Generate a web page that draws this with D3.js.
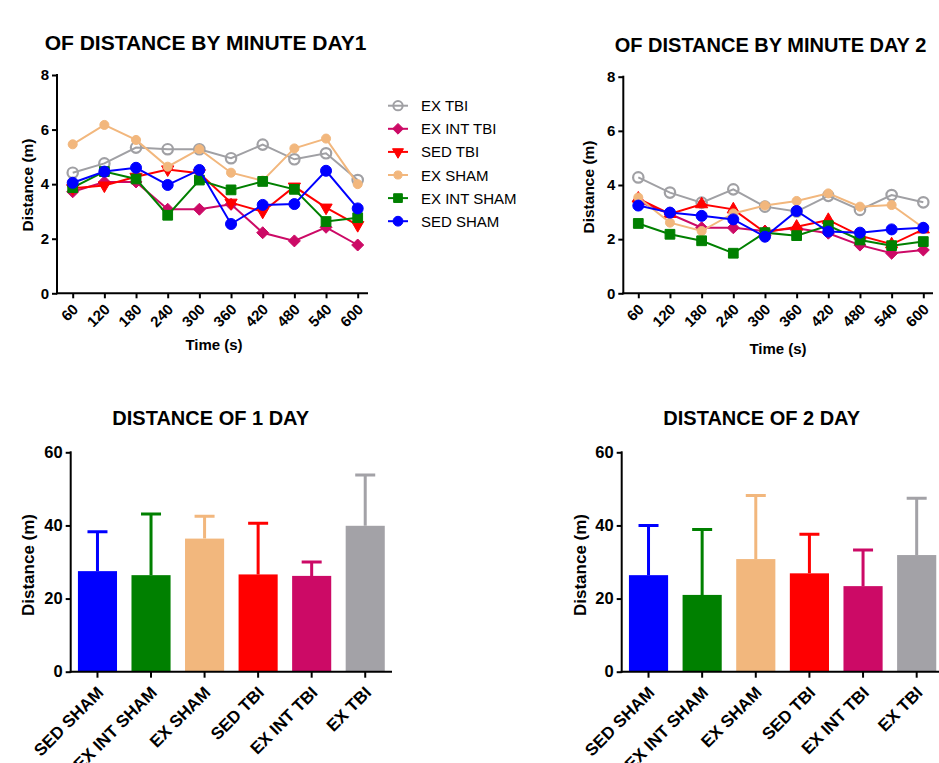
<!DOCTYPE html>
<html>
<head>
<meta charset="utf-8">
<script src="https://cdn.jsdelivr.net/npm/d3@7"></script>
<style>
body{margin:0;background:#fff}
svg text{font-family:'Liberation Sans',Arial,sans-serif;fill:#000}
</style>
</head>
<body>
<svg id="chart" width="939" height="763"></svg>
<script>
// minute-by-minute data
const times = [60, 120, 180, 240, 300, 360, 420, 480, 540, 600]
const lineGroups = ['EX TBI', 'EX INT TBI', 'SED TBI', 'EX SHAM', 'EX INT SHAM', 'SED SHAM']
const lineColors = ['#a0a0a4', '#cc0a66', '#ff0000', '#f2b77d', '#008000', '#0000ff']

const day1ExTbi     = [4.42, 4.76, 5.34, 5.28, 5.28, 4.95, 5.45, 4.91, 5.13, 4.15]
const day1ExIntTbi  = [3.72, 4.08, 4.08, 3.08, 3.08, 3.26, 2.22, 1.92, 2.42, 1.77]
const day1SedTbi    = [3.85, 3.95, 4.27, 4.54, 4.40, 3.32, 2.99, 3.91, 3.14, 2.50]
const day1ExSham    = [5.46, 6.17, 5.62, 4.64, 5.28, 4.42, 4.13, 5.31, 5.67, 4.00]
const day1ExIntSham = [3.87, 4.46, 4.19, 2.86, 4.15, 3.79, 4.10, 3.81, 2.63, 2.77]
const day1SedSham   = [4.05, 4.46, 4.60, 3.97, 4.52, 2.54, 3.24, 3.27, 4.49, 3.11]

const day2ExTbi     = [4.28, 3.72, 3.35, 3.84, 3.20, 3.02, 3.60, 3.08, 3.63, 3.36]
const day2ExIntTbi  = [3.40, 2.93, 2.42, 2.42, 2.30, 2.40, 2.22, 1.78, 1.48, 1.60]
const day2SedTbi    = [3.50, 2.93, 3.29, 3.10, 2.25, 2.46, 2.71, 2.13, 1.81, 2.36]
const day2ExSham    = [3.54, 2.61, 2.30, 2.95, 3.24, 3.41, 3.69, 3.20, 3.26, 2.42]
const day2ExIntSham = [2.58, 2.18, 1.94, 1.48, 2.24, 2.13, 2.50, 1.97, 1.76, 1.91]
const day2SedSham   = [3.24, 2.98, 2.86, 2.73, 2.09, 3.04, 2.28, 2.24, 2.36, 2.42]

const lineTicks = [0, 2, 4, 6, 8]

// whole-day totals
const barGroups = ['SED SHAM', 'EX INT SHAM', 'EX SHAM', 'SED TBI', 'EX INT TBI', 'EX TBI']
const barColors = ['#0000ff', '#008000', '#f2b77d', '#ff0000', '#cc0a66', '#a3a2a7']
const day1Mean = [27.5, 26.4, 36.4, 26.6, 26.2, 39.9]
const day1Err  = [10.8, 16.7, 6.1, 14.0, 3.8, 13.9]
const day2Mean = [26.4, 21.0, 30.8, 26.9, 23.4, 31.9]
const day2Err  = [13.6, 17.9, 17.4, 10.7, 9.9, 15.5]
const barTicks = [0, 20, 40, 60]

var svg = d3.select('#chart')

const diamond = {draw(ctx, size){ // square turned 45deg
  const r = Math.sqrt(size) / Math.SQRT2
  ctx.moveTo(0, -r); ctx.lineTo(r, 0); ctx.lineTo(0, r); ctx.lineTo(-r, 0); ctx.closePath()
}}

// marker per series: [symbol type, size, filled, rotate]
var markers = (day) => [
  [d3.symbolCircle, 85, false, 0],
  [diamond, 72, true, 0],
  [d3.symbolTriangle, 65, true, day === 1 ? 180 : 0],
  [d3.symbolCircle, 64, true, 0],
  [d3.symbolSquare, 95, true, 0],
  [d3.symbolCircle, 95, true, 0]
]

var styleAxis = (g, fs) => {
  g.selectAll('line').attr('stroke', '#000').attr('stroke-width', 2)
  g.selectAll('text').style('font-size', fs + 'px').style('font-weight', 'bold')
}

var lineChart = (opt) => {
  const x = d3.scaleLinear([60, 600], [opt.x0, opt.x1])
  const y = d3.scaleLinear([0, 8], [opt.yBottom, opt.yTop])
  const g = svg.append('g')

  // axes
  const ya = g.append('g').attr('transform', `translate(${opt.axisX},0)`)
    .call(d3.axisLeft(y).tickValues(lineTicks).tickSize(5).tickPadding(3).tickFormat(d3.format('d')))
  ya.select('.domain').remove()
  styleAxis(ya, 15)
  const xa = g.append('g').attr('transform', `translate(0,${opt.yBottom})`)
    .call(d3.axisBottom(x).tickValues(times).tickSize(5).tickFormat(d3.format('d')))
  xa.select('.domain').remove()
  styleAxis(xa, 15)
  xa.selectAll('text').attr('y', null).attr('dy', null)
    .attr('text-anchor', 'end')
    .attr('transform', 'translate(6,17) rotate(-45)')
  g.append('line').attr('x1', opt.axisX).attr('x2', opt.axisX)
    .attr('y1', y(8) - 1).attr('y2', opt.yBottom + 1)
    .attr('stroke', '#000').attr('stroke-width', 2)
  g.append('line').attr('x1', opt.axisX - 1).attr('x2', opt.xEnd)
    .attr('y1', opt.yBottom).attr('y2', opt.yBottom)
    .attr('stroke', '#000').attr('stroke-width', 2)

  // series
  const line = d3.line().x((d, i) => x(times[i])).y(d => y(d))
  const mk = markers(opt.day)
  opt.series.forEach((vals, si) => {
    const col = lineColors[si]
    g.append('path').attr('d', line(vals)).attr('fill', 'none')
      .attr('stroke', col).attr('stroke-width', 2)
    const m = mk[si]
    const sym = d3.symbol().type(m[0]).size(m[1])
    g.selectAll(null).data(vals).join('path')
      .attr('d', sym)
      .attr('transform', (d, i) => `translate(${x(times[i])},${y(d)}) rotate(${m[3]})`)
      .attr('fill', m[2] ? col : 'none')
      .attr('stroke', col).attr('stroke-width', m[2] ? 1 : 2.2)
  })

  // labels
  g.append('text').attr('x', opt.titleX).attr('y', opt.titleY)
    .attr('text-anchor', 'middle').style('font-size', opt.titleSize + 'px').style('font-weight', 'bold')
    .text(opt.title)
  g.append('text').attr('x', opt.xLabX).attr('y', opt.xLabY)
    .attr('text-anchor', 'middle').style('font-size', '15px').style('font-weight', 'bold')
    .text('Time (s)')
  g.append('text').attr('transform', `translate(${opt.yLabX},${opt.yLabY}) rotate(-90)`)
    .attr('text-anchor', 'middle').attr('dy', '0.35em')
    .style('font-size', '15.5px').style('font-weight', 'bold')
    .text('Distance (m)')
}

var barChart = (opt) => {
  const x = d3.scaleBand(barGroups, [opt.x0, opt.x1]).paddingInner(0.27).paddingOuter(0.135)
  const y = d3.scaleLinear([0, 60], [671.7, 452.3])
  const g = svg.append('g')
  const bw = x.bandwidth()

  g.selectAll(null).data(opt.mean).join('rect')
    .attr('x', (d, i) => x(barGroups[i])).attr('width', bw)
    .attr('y', d => y(d)).attr('height', d => y(0) - y(d))
    .attr('fill', (d, i) => barColors[i])

  // upper error bars
  g.selectAll(null).data(opt.mean).join('path')
    .attr('d', (d, i) => {
      const cx = x(barGroups[i]) + bw / 2, top = y(d + opt.err[i])
      return `M${cx},${y(d)}V${top}M${cx - 10},${top}H${cx + 10}`
    })
    .attr('fill', 'none').attr('stroke', (d, i) => barColors[i]).attr('stroke-width', 3)

  const ya = g.append('g').attr('transform', `translate(${opt.x0},0)`)
    .call(d3.axisLeft(y).tickValues(barTicks).tickSize(5).tickPadding(3))
  ya.select('.domain').remove()
  styleAxis(ya, 16.5)
  const xa = g.append('g').attr('transform', `translate(0,${y(0)})`)
    .call(d3.axisBottom(x).tickSize(6))
  xa.select('.domain').remove()
  styleAxis(xa, 17)
  xa.selectAll('text').attr('y', null).attr('dy', null)
    .attr('text-anchor', 'end')
    .attr('transform', 'translate(7,22) rotate(-45)')
  g.append('line').attr('x1', opt.x0).attr('x2', opt.x0)
    .attr('y1', y(60) - 1).attr('y2', y(0) + 1)
    .attr('stroke', '#000').attr('stroke-width', 2)
  g.append('line').attr('x1', opt.x0 - 1).attr('x2', opt.x1)
    .attr('y1', y(0)).attr('y2', y(0))
    .attr('stroke', '#000').attr('stroke-width', 2)

  g.append('text').attr('x', opt.titleX).attr('y', 425)
    .attr('text-anchor', 'middle').style('font-size', '20px').style('font-weight', 'bold')
    .text(opt.title)
  g.append('text').attr('transform', `translate(${opt.yLabX},565) rotate(-90)`)
    .attr('text-anchor', 'middle').attr('dy', '0.35em')
    .style('font-size', '17px').style('font-weight', 'bold')
    .text('Distance (m)')
}

lineChart({
  day: 1, x0: 72.7, x1: 357.7, xEnd: 368, axisX: 57, yTop: 75, yBottom: 293.3,
  series: [day1ExTbi, day1ExIntTbi, day1SedTbi, day1ExSham, day1ExIntSham, day1SedSham],
  title: 'OF DISTANCE BY MINUTE DAY1', titleX: 205.5, titleY: 50, titleSize: 21,
  xLabX: 214, xLabY: 350, yLabX: 28, yLabY: 185
})
lineChart({
  day: 2, x0: 638.3, x1: 923.3, xEnd: 933, axisX: 623.3, yTop: 76.7, yBottom: 293.3,
  series: [day2ExTbi, day2ExIntTbi, day2SedTbi, day2ExSham, day2ExIntSham, day2SedSham],
  title: 'OF DISTANCE BY MINUTE DAY 2', titleX: 770.5, titleY: 51.5, titleSize: 20,
  xLabX: 778, xLabY: 354, yLabX: 589, yLabY: 187
})

// legend for day 1
var leg = svg.append('g')
var legMk = markers(1)
lineGroups.forEach((name, i) => {
  const yy = 105.7 + i * 23.1, col = lineColors[i], m = legMk[i]
  leg.append('line').attr('x1', 388).attr('x2', 408).attr('y1', yy).attr('y2', yy)
    .attr('stroke', col).attr('stroke-width', 2)
  leg.append('path').attr('d', d3.symbol().type(m[0]).size(m[1] * 0.8)())
    .attr('transform', `translate(398,${yy}) rotate(${m[3]})`)
    .attr('fill', m[2] ? col : 'none').attr('stroke', col).attr('stroke-width', m[2] ? 1 : 2)
  leg.append('text').attr('x', 421).attr('y', yy + 5.5)
    .style('font-size', '15px').text(name)
})

barChart({x0: 70.7, x1: 392, mean: day1Mean, err: day1Err, title: 'DISTANCE OF 1 DAY', titleX: 210.7, yLabX: 28.3})
barChart({x0: 621.7, x1: 943.5, mean: day2Mean, err: day2Err, title: 'DISTANCE OF 2 DAY', titleX: 761.7, yLabX: 580})
</script>
</body>
</html>
